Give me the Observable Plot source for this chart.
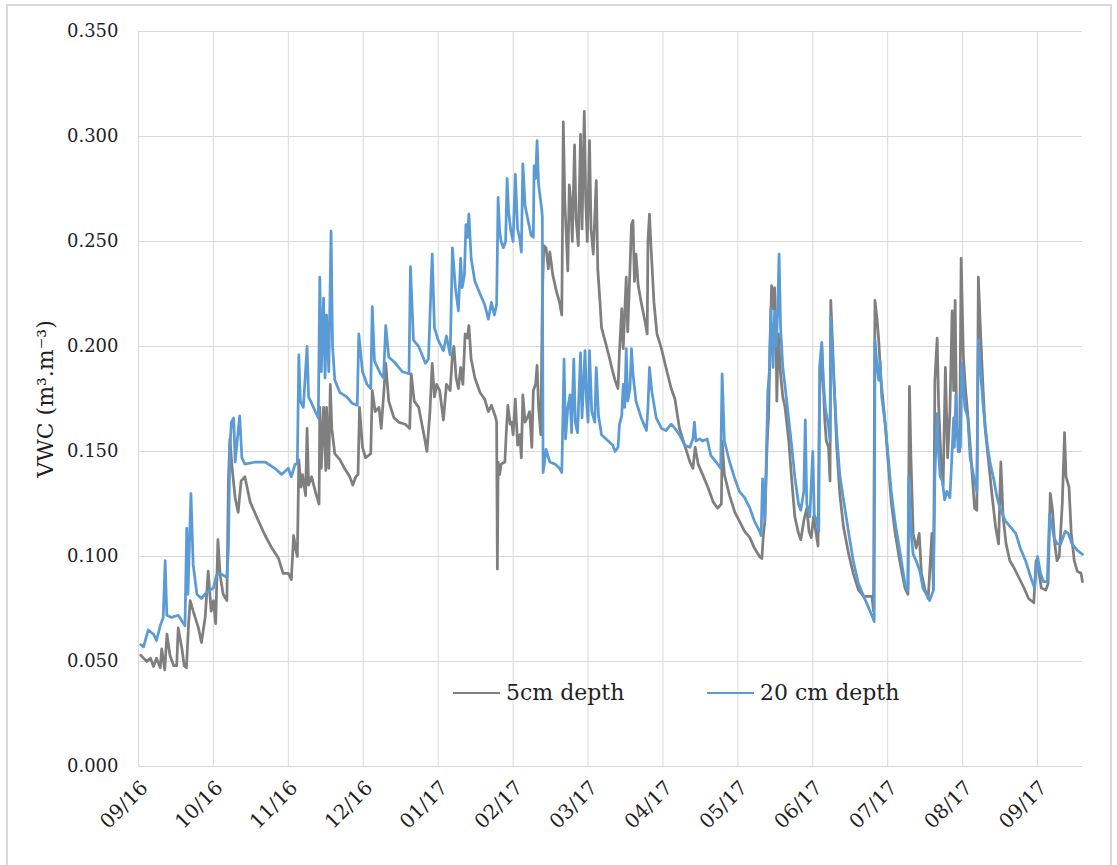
<!DOCTYPE html>
<html>
<head>
<meta charset="utf-8">
<script src="https://cdn.jsdelivr.net/npm/d3@7"></script>
<script src="https://cdn.jsdelivr.net/npm/@observablehq/plot@0.6"></script>
<style>
  html, body { margin: 0; padding: 0; background: #ffffff; }
  #wrap { position: relative; width: 1117px; height: 865px; overflow: hidden; }
  #border { position: absolute; left: 6px; top: 4px; width: 1106px; height: 900px;
            border: 2px solid #d9d9d9; box-sizing: border-box; pointer-events: none; }
  .legend-item { position: absolute; display: flex; align-items: center;
                 font-family: "DejaVu Serif", serif; font-size: 22px; color: #1f1f1f; white-space: nowrap; }
  .legend-swatch { display: inline-block; width: 47px; height: 0; margin-right: 6px; }
</style>
</head>
<body>
<div id="wrap">
  <div id="border"></div>
  <div id="chart"></div>
</div>
<script>
// Time axis: months elapsed since 1 Sep 2016 (one gridline per month)
const monthLabels = ["09/16","10/16","11/16","12/16","01/17","02/17","03/17",
                     "04/17","05/17","06/17","07/17","08/17","09/17"];
const yTicks = [0, 0.05, 0.10, 0.15, 0.20, 0.25, 0.30, 0.35];

// Volumetric water content at 5 cm depth
const t5 = [0.03,0.067,0.11,0.16,0.2,0.24,0.29,0.31,0.35,0.38,0.42,0.47,0.51,0.53,0.58,0.61,0.64,0.67,0.69,0.73,0.8,0.84,0.89,0.93,0.97,1.0,1.03,1.06,1.09,1.13,1.18,
  1.2,1.22,1.25,1.29,1.33,1.37,1.42,1.49,1.6,1.69,1.78,1.87,1.93,2.0,2.04,2.07,2.1,2.12,
  2.14,2.17,2.19,2.23,2.25,2.27,2.31,2.36,2.41,2.42,2.44,2.47,2.5,2.51,2.54,2.56,2.58,2.62,2.69,2.75,2.82,2.86,2.9,2.93,2.95,2.99,3.03,3.1,3.12,3.16,3.21,3.24,3.27,3.3,3.34,3.41,3.47,3.56,3.62,3.64,3.68,3.74,3.81,3.85,3.89,3.92,3.95,3.98,4.02,4.07,4.11,4.16,4.19,
  4.21,4.24,4.27,4.3,4.33,4.36,4.39,4.41,4.44,4.49,4.56,4.62,4.67,4.71,4.76,4.78,4.79,4.8,4.82,4.84,4.89,4.91,4.93,4.96,4.98,5.0,5.03,5.06,5.09,5.11,5.13,5.16,5.2,5.22,5.25,5.27,5.3,5.32,5.34,5.37,5.39,5.41,5.44,5.47,5.49,5.53,5.58,5.62,5.65,5.67,5.69,5.71,5.73,5.75,5.77,5.79,5.8,5.82,5.84,5.87,5.9,5.92,5.95,5.97,5.99,6.02,6.04,6.07,6.11,6.13,6.16,6.18,6.24,6.29,6.33,
  6.36,6.4,6.42,6.45,6.47,6.51,6.53,6.56,6.58,6.6,6.62,6.64,6.67,6.71,6.76,6.79,6.8,6.82,6.84,6.88,6.92,6.98,7.04,7.11,7.16,7.22,7.29,7.36,7.4,7.43,7.47,7.53,7.6,7.67,7.73,7.78,7.79,7.82,7.89,7.96,8.02,8.09,8.16,8.22,8.29,8.32,8.34,8.36,8.39,8.41,8.43,8.45,8.47,8.49,
  8.51,8.52,8.54,8.57,8.6,8.63,8.68,8.72,8.76,8.81,8.84,8.88,8.92,8.95,8.98,9.01,9.04,9.07,9.09,9.12,9.16,9.18,9.21,9.23,9.24,9.28,9.32,9.36,9.41,9.48,9.54,9.61,9.68,9.74,9.79,9.81,9.83,9.86,9.88,9.91,9.96,10.01,10.05,10.1,10.16,10.23,10.27,10.29,10.31,10.34,10.38,10.42,10.45,10.5,10.54,10.59,10.61,10.63,10.66,10.68,
  10.71,10.74,10.77,10.8,10.83,10.86,10.88,10.9,10.92,10.96,10.98,11.01,11.04,11.08,11.13,11.16,11.19,11.21,11.24,11.27,11.3,11.35,11.39,11.44,11.48,11.51,11.54,11.58,11.63,11.68,11.75,11.82,11.88,11.95,11.98,12.01,12.05,12.11,12.14,12.17,12.2,12.23,12.26,12.29,12.33,12.36,12.38,12.42,12.45,12.49,12.53,12.58,12.6];
const vwc5 = [0.053,0.0516,0.050,0.0516,0.0476,0.0516,0.047,0.056,0.046,0.063,0.053,0.048,0.048,0.066,0.056,0.048,0.047,0.069,0.079,0.074,0.066,0.059,0.071,0.093,0.074,0.079,0.068,0.108,0.091,0.082,0.079,
  0.136,0.156,0.142,0.128,0.121,0.136,0.138,0.126,0.117,0.110,0.104,0.099,0.092,0.092,0.089,0.110,0.103,0.100,
  0.146,0.133,0.139,0.129,0.161,0.134,0.138,0.131,0.125,0.171,0.142,0.171,0.141,0.171,0.142,0.182,0.161,0.149,0.146,0.142,0.138,0.134,0.138,0.139,0.171,0.152,0.147,0.149,0.179,0.169,0.171,0.161,0.176,0.192,0.174,0.166,0.164,0.163,0.161,0.187,0.174,0.171,0.158,0.150,0.169,0.192,0.176,0.182,0.179,0.165,0.182,0.179,0.196,
  0.200,0.185,0.180,0.190,0.182,0.206,0.204,0.210,0.194,0.185,0.178,0.175,0.169,0.172,0.167,0.164,0.094,0.145,0.139,0.144,0.145,0.160,0.172,0.163,0.164,0.158,0.175,0.153,0.158,0.147,0.177,0.164,0.167,0.169,0.152,0.179,0.182,0.191,0.171,0.158,0.223,0.248,0.247,0.237,0.245,0.234,0.226,0.221,0.215,0.307,0.269,0.253,0.236,0.277,0.269,0.250,0.266,0.296,0.261,0.248,0.301,0.256,0.312,0.269,0.250,0.298,0.256,0.244,0.279,0.237,0.221,0.209,0.201,0.194,0.188,
  0.184,0.180,0.198,0.218,0.199,0.233,0.207,0.237,0.258,0.260,0.231,0.244,0.229,0.221,0.212,0.206,0.250,0.263,0.248,0.221,0.206,0.199,0.190,0.180,0.175,0.161,0.153,0.145,0.142,0.152,0.144,0.139,0.133,0.126,0.123,0.125,0.155,0.139,0.129,0.121,0.117,0.112,0.109,0.104,0.100,0.099,0.110,0.117,0.153,0.167,0.201,0.229,0.218,0.228,
  0.205,0.174,0.206,0.187,0.176,0.171,0.155,0.136,0.119,0.111,0.108,0.117,0.123,0.112,0.109,0.119,0.112,0.105,0.176,0.200,0.165,0.155,0.152,0.136,0.222,0.187,0.152,0.130,0.114,0.101,0.092,0.084,0.081,0.081,0.081,0.074,0.222,0.212,0.203,0.184,0.166,0.143,0.125,0.111,0.098,0.085,0.082,0.181,0.147,0.111,0.104,0.111,0.092,0.084,0.080,0.111,0.084,0.184,0.204,0.172,
  0.147,0.134,0.190,0.147,0.169,0.217,0.179,0.222,0.161,0.150,0.242,0.195,0.179,0.163,0.138,0.123,0.122,0.233,0.206,0.182,0.161,0.144,0.130,0.114,0.106,0.145,0.119,0.106,0.098,0.095,0.090,0.085,0.080,0.078,0.098,0.095,0.085,0.084,0.087,0.130,0.122,0.106,0.098,0.100,0.125,0.159,0.138,0.133,0.111,0.098,0.093,0.092,0.088];

// Volumetric water content at 20 cm depth
const t20 = [0.03,0.067,0.13,0.2,0.24,0.29,0.33,0.356,0.378,0.44,0.53,0.62,0.644,0.66,0.7,0.73,0.78,0.84,0.91,1.0,1.04,1.09,1.18,1.2,1.22,1.24,1.27,1.29,1.35,1.38,1.42,1.56,1.69,1.82,1.91,2.0,2.04,2.09,2.12,
  2.14,2.16,2.2,2.25,2.27,2.31,2.36,2.4,2.42,2.44,2.47,2.49,2.51,2.54,2.57,2.59,2.62,2.69,2.78,2.85,2.92,2.94,2.99,3.05,3.1,3.12,3.15,3.23,3.27,3.3,3.34,3.43,3.52,3.61,3.63,3.67,3.74,3.83,3.87,3.92,3.95,4.0,4.07,4.11,4.16,4.19,4.23,
  4.27,4.3,4.32,4.35,4.37,4.39,4.41,4.44,4.49,4.56,4.62,4.67,4.71,4.75,4.78,4.8,4.82,4.84,4.87,4.9,4.92,4.94,4.97,5.0,5.03,5.06,5.09,5.11,5.13,5.16,5.2,5.24,5.27,5.28,5.3,5.32,5.34,5.38,5.39,5.4,5.42,5.44,5.49,5.56,5.62,5.65,5.68,5.7,5.73,5.76,5.78,5.81,5.83,5.86,5.9,5.92,5.96,5.98,6.0,6.02,6.05,6.09,6.11,6.14,6.18,6.27,6.33,
  6.36,6.4,6.42,6.45,6.47,6.49,6.51,6.53,6.56,6.58,6.6,6.64,6.71,6.78,6.8,6.82,6.85,6.91,6.98,7.04,7.11,7.16,7.22,7.29,7.36,7.4,7.42,7.44,7.49,7.53,7.59,7.64,7.71,7.77,7.79,7.82,7.89,7.96,8.02,8.09,8.16,8.22,8.29,8.31,8.33,8.36,8.38,8.4,8.42,8.44,8.47,8.49,
  8.51,8.53,8.55,8.57,8.6,8.63,8.68,8.72,8.76,8.81,8.84,8.88,8.9,8.92,8.96,9.0,9.02,9.05,9.08,9.09,9.12,9.14,9.17,9.21,9.23,9.24,9.28,9.32,9.36,9.41,9.48,9.54,9.61,9.68,9.74,9.8,9.82,9.83,9.86,9.88,9.9,9.92,9.97,10.01,10.05,10.1,10.16,10.23,10.27,10.28,10.31,10.34,10.38,10.43,10.47,10.53,10.56,10.61,10.63,10.66,
  10.68,10.7,10.73,10.76,10.79,10.83,10.86,10.88,10.89,10.91,10.94,10.97,10.99,11.03,11.07,11.1,11.15,11.19,11.21,11.24,11.28,11.33,11.37,11.42,11.46,11.5,11.57,11.64,11.71,11.77,11.84,11.91,11.96,12.0,12.04,12.08,12.13,12.16,12.19,12.22,12.26,12.31,12.37,12.41,12.46,12.53,12.6];
const vwc20 = [0.058,0.057,0.065,0.063,0.060,0.067,0.071,0.098,0.072,0.071,0.072,0.067,0.1135,0.082,0.130,0.096,0.082,0.080,0.083,0.085,0.091,0.092,0.090,0.104,0.152,0.164,0.166,0.145,0.167,0.147,0.144,0.145,0.145,0.142,0.139,0.142,0.138,0.144,0.144,
  0.196,0.174,0.171,0.200,0.176,0.173,0.169,0.166,0.233,0.188,0.223,0.185,0.215,0.188,0.255,0.200,0.184,0.178,0.176,0.173,0.172,0.206,0.188,0.182,0.180,0.219,0.193,0.187,0.185,0.210,0.195,0.192,0.188,0.187,0.238,0.203,0.200,0.192,0.194,0.244,0.209,0.203,0.198,0.205,0.196,0.247,0.228,
  0.217,0.242,0.228,0.234,0.258,0.252,0.263,0.242,0.231,0.225,0.220,0.213,0.221,0.215,0.220,0.271,0.255,0.250,0.247,0.250,0.280,0.264,0.255,0.250,0.282,0.256,0.251,0.245,0.287,0.267,0.260,0.253,0.252,0.286,0.280,0.298,0.277,0.266,0.262,0.140,0.145,0.151,0.145,0.144,0.142,0.140,0.194,0.156,0.171,0.177,0.159,0.194,0.164,0.159,0.197,0.166,0.198,0.174,0.164,0.198,0.169,0.164,0.190,0.167,0.158,0.155,0.153,
  0.150,0.152,0.163,0.167,0.182,0.171,0.199,0.174,0.180,0.199,0.187,0.174,0.166,0.160,0.171,0.190,0.179,0.166,0.161,0.160,0.163,0.161,0.158,0.153,0.152,0.156,0.164,0.155,0.156,0.155,0.156,0.148,0.145,0.142,0.187,0.155,0.145,0.137,0.131,0.128,0.123,0.117,0.112,0.110,0.137,0.117,0.147,0.179,0.188,0.218,0.190,0.217,
  0.200,0.215,0.244,0.209,0.190,0.181,0.165,0.152,0.138,0.125,0.122,0.131,0.165,0.125,0.119,0.150,0.120,0.117,0.112,0.190,0.202,0.184,0.170,0.162,0.155,0.214,0.184,0.158,0.139,0.127,0.111,0.098,0.087,0.081,0.076,0.071,0.069,0.203,0.190,0.184,0.193,0.176,0.162,0.146,0.130,0.116,0.103,0.087,0.084,0.138,0.112,0.101,0.098,0.093,0.085,0.081,0.079,0.084,0.139,0.168,
  0.149,0.138,0.136,0.127,0.131,0.128,0.150,0.166,0.152,0.177,0.150,0.152,0.192,0.171,0.166,0.147,0.138,0.131,0.203,0.188,0.169,0.153,0.144,0.136,0.128,0.123,0.117,0.114,0.111,0.104,0.098,0.090,0.085,0.100,0.092,0.088,0.088,0.120,0.115,0.109,0.106,0.106,0.112,0.111,0.106,0.103,0.101];

const seriesNames = ["5cm depth", "20 cm depth"];
const seriesColors = ["#7f7f7f", "#5b9bd5"];
const yLabel = "VWC (m³.m⁻³)";

const data5 = t5.map((t, i) => ({t, v: vwc5[i]}));
const data20 = t20.map((t, i) => ({t, v: vwc20[i]}));
const monthTicks = d3.range(monthLabels.length);

const chart = Plot.plot({
  width: 1117,
  height: 865,
  marginLeft: 138,
  marginRight: 35,
  marginTop: 31,
  marginBottom: 99,
  style: {fontFamily: "'DejaVu Serif', serif", fontSize: "18px", color: "#1f1f1f", background: "transparent", overflow: "visible"},
  x: {domain: [0, 12.6], label: null},
  y: {domain: [0, 0.35], label: null},
  marks: [
    Plot.gridY(yTicks, {stroke: "#d9d9d9", strokeOpacity: 1, strokeWidth: 1}),
    Plot.gridX(monthTicks, {stroke: "#d9d9d9", strokeOpacity: 1, strokeWidth: 1}),
    Plot.axisY(yTicks, {tickSize: 0, tickPadding: 20, tickFormat: d3.format(".3f"), label: null, fontSize: 18}),
    Plot.axisX(monthTicks, {tickSize: 0, tickPadding: 18, tickRotate: -45, dx: 6, tickFormat: i => monthLabels[i], label: null, fontSize: 20}),
    Plot.line(data5, {x: "t", y: "v", stroke: seriesColors[0], strokeWidth: 2.75, strokeLinejoin: "round"}),
    Plot.line(data20, {x: "t", y: "v", stroke: seriesColors[1], strokeWidth: 2.75, strokeLinejoin: "round"}),
    Plot.text([yLabel], {frameAnchor: "left", textAnchor: "middle", dx: -93, rotate: -90, fontSize: 22, fill: "#1f1f1f", text: d => d})
  ]
});
document.getElementById("chart").appendChild(chart);

// Legend inside the plot area, below the data
const legendLeft = [453, 707];
seriesNames.forEach((name, i) => {
  const item = document.createElement("div");
  item.className = "legend-item";
  item.style.left = legendLeft[i] + "px";
  item.style.top = "680px";
  const sw = document.createElement("span");
  sw.className = "legend-swatch";
  sw.style.borderTop = "2.5px solid " + seriesColors[i];
  const label = document.createElement("span");
  label.textContent = name;
  item.appendChild(sw);
  item.appendChild(label);
  document.getElementById("wrap").appendChild(item);
});
</script>
</body>
</html>
